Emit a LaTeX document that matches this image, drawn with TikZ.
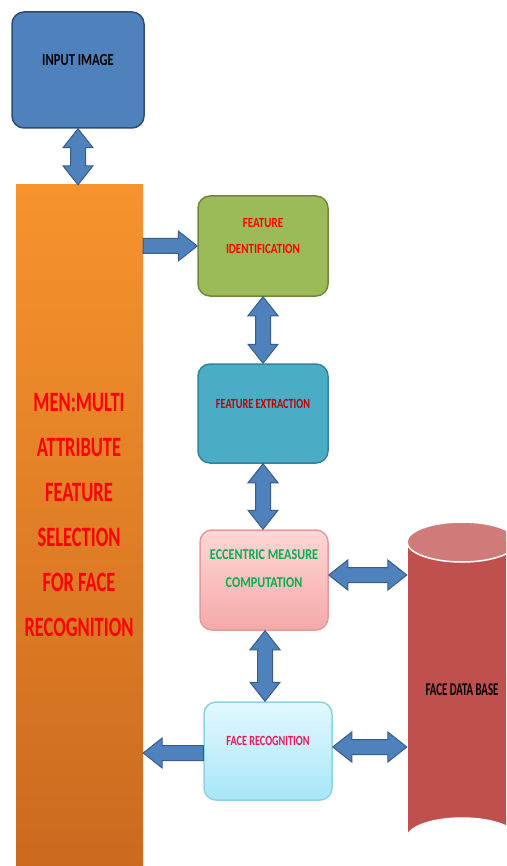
\documentclass[tikz,border=0pt]{standalone}
\usepackage{fontspec}
\usepackage{graphicx}
\setmainfont{Carlito}
\usetikzlibrary{calc}
\definecolor{arrowfill}{HTML}{4F81BD}
\definecolor{arrowline}{HTML}{385D8A}
\definecolor{inputfill}{HTML}{4F81BD}
\definecolor{inputline}{HTML}{2C4D75}
\definecolor{orangetop}{HTML}{F7932D}
\definecolor{orangebot}{HTML}{CB6A1F}
\definecolor{greenfill}{HTML}{9BBB59}
\definecolor{greenline}{HTML}{6F8A3A}
\definecolor{tealfill}{HTML}{4BACC6}
\definecolor{tealline}{HTML}{31849B}
\definecolor{pinktop}{HTML}{FFD6D6}
\definecolor{pinkbot}{HTML}{F5A9A9}
\definecolor{pinkline}{HTML}{E69A9A}
\definecolor{cyantop}{HTML}{E2F8FE}
\definecolor{cyanbot}{HTML}{A9E6F8}
\definecolor{cyanline}{HTML}{8ED2E6}
\definecolor{dbfill}{HTML}{C0504D}
\definecolor{dbtop}{HTML}{CF7B79}
\definecolor{txtred}{HTML}{FF0000}
\definecolor{txtdarkred}{HTML}{C00000}
\definecolor{txtgreen}{HTML}{00B050}
\definecolor{txtpink}{HTML}{E6195A}
\newcommand\sq[2]{\scalebox{#1}[1]{#2}}
\def\AW{7.5pt}
\def\AH{15pt}
\def\AL{19pt}
% vertical double block arrow: #1 top point, #2 bottom point
\newcommand\vdbl[2]{\draw[blockarrow] let \p1=(#1), \p2=(#2) in
  (\x1,\y1) -- (\x1+\AH,\y1-\AL) -- (\x1+\AW,\y1-\AL) -- (\x1+\AW,\y2+\AL) -- (\x1+\AH,\y2+\AL)
  -- (\x1,\y2) -- (\x1-\AH,\y2+\AL) -- (\x1-\AW,\y2+\AL) -- (\x1-\AW,\y1-\AL) -- (\x1-\AH,\y1-\AL) -- cycle;}
% horizontal double block arrow: #1 left point, #2 right point
\newcommand\hdbl[2]{\draw[blockarrow] let \p1=(#1), \p2=(#2) in
  (\x1,\y1) -- (\x1+\AL,\y1+\AH) -- (\x1+\AL,\y1+\AW) -- (\x2-\AL,\y1+\AW) -- (\x2-\AL,\y1+\AH)
  -- (\x2,\y1) -- (\x2-\AL,\y1-\AH) -- (\x2-\AL,\y1-\AW) -- (\x1+\AL,\y1-\AW) -- (\x1+\AL,\y1-\AH) -- cycle;}
% single right arrow: #1 tail (left), #2 tip (right)
\newcommand\rarr[2]{\draw[blockarrow] let \p1=(#1), \p2=(#2) in
  (\x1,\y1+\AW) -- (\x2-\AL,\y1+\AW) -- (\x2-\AL,\y1+\AH) -- (\x2,\y1) -- (\x2-\AL,\y1-\AH)
  -- (\x2-\AL,\y1-\AW) -- (\x1,\y1-\AW) -- cycle;}
% single left arrow: #1 tail (right), #2 tip (left)
\newcommand\larr[2]{\draw[blockarrow] let \p1=(#1), \p2=(#2) in
  (\x1,\y1+\AW) -- (\x2+\AL,\y1+\AW) -- (\x2+\AL,\y1+\AH) -- (\x2,\y1) -- (\x2+\AL,\y1-\AH)
  -- (\x2+\AL,\y1-\AW) -- (\x1,\y1-\AW) -- cycle;}
\begin{document}
\begin{tikzpicture}[x=1pt,y=-1pt,
  blockarrow/.style={fill=arrowfill,draw=arrowline,line width=1pt,line join=miter},
  roundbox/.style={rounded corners=12pt,inner sep=0pt,line width=1.5pt},
  lbl/.style={align=center,inner sep=0pt,font=\bfseries}]
\useasboundingbox (0,0) rectangle (506,866);
\clip (0,0) rectangle (506,866);
\fill[white] (0,0) rectangle (506,866);

% boxes
\node[roundbox,fill=inputfill,draw=inputline,minimum width=132pt,minimum height=116pt] (input) at (78,70) {};
\node[lbl,text=black,font=\bfseries\fontsize{17}{20}\selectfont] (inputlbl) at (78,60) {\sq{0.74}{INPUT IMAGE}};

\node[inner sep=0pt,minimum width=127pt,minimum height=682pt,top color=orangetop,bottom color=orangebot] (men) at (79.5,526) {};
\node[lbl,text=txtred,font=\bfseries\fontsize{28}{45}\selectfont] (menlbl) at (79,515)
  {\sq{0.66}{MEN:MULTI}\\\sq{0.66}{ATTRIBUTE}\\\sq{0.66}{FEATURE}\\\sq{0.66}{SELECTION}\\\sq{0.66}{FOR FACE}\\\sq{0.66}{RECOGNITION}};

\node[roundbox,fill=greenfill,draw=greenline,minimum width=130pt,minimum height=100pt] (fid) at (263,246) {};
\node[lbl,text=txtred,font=\bfseries\fontsize{14}{26}\selectfont] (fidlbl) at (263,236) {\sq{0.79}{FEATURE}\\\sq{0.79}{IDENTIFICATION}};

\node[roundbox,fill=tealfill,draw=tealline,minimum width=130pt,minimum height=99pt] (fext) at (263,413.5) {};
\node[lbl,text=txtdarkred,font=\bfseries\fontsize{14}{20}\selectfont] (fextlbl) at (263,404) {\sq{0.73}{FEATURE EXTRACTION}};

\node[roundbox,top color=pinktop,bottom color=pinkbot,draw=pinkline,minimum width=128pt,minimum height=100pt] (ecc) at (264,580) {};
\node[lbl,text=txtgreen,font=\bfseries\fontsize{15}{28}\selectfont] (ecclbl) at (264,569) {\sq{0.81}{ECCENTRIC MEASURE}\\\sq{0.81}{COMPUTATION}};

\node[roundbox,top color=cyantop,bottom color=cyanbot,draw=cyanline,minimum width=128pt,minimum height=98pt] (frec) at (268,751) {};
\node[lbl,text=txtpink,font=\bfseries\fontsize{14}{20}\selectfont] (freclbl) at (268,741) {\sq{0.73}{FACE RECOGNITION}};

% database cylinder
\fill[dbfill] (407,542) -- (407,838) arc[start angle=180,end angle=360,x radius=55,y radius=20] -- (517,542) -- cycle;
\draw[white,line width=1.5pt] (407,542) -- (407,838) arc[start angle=180,end angle=360,x radius=55,y radius=20] -- (517,542);
\draw[white,line width=1.5pt,fill=dbtop] (462,542) ellipse[x radius=55,y radius=20];
\node[inner sep=0pt,minimum width=110pt,minimum height=336pt,font=\bfseries\fontsize{18}{20}\selectfont] (db) at (462,690) {\sq{0.6}{FACE DATA BASE}};

% connectors
\vdbl{input.south}{men.north}
\rarr{men.east |- fid.west}{fid.west}
\vdbl{fid.south}{fext.north}
\vdbl{fext.south}{fext.south |- ecc.north}
\hdbl{$(ecc.east)+(0,-5)$}{$(ecc.east -| db.west)+(0,-5)$}
\vdbl{$(ecc.south)+(1,0)$}{$(ecc.south |- frec.north)+(1,0)$}
\larr{$(frec.west)+(0,2)$}{$(frec.west -| men.east)+(0,2)$}
\hdbl{$(frec.east)+(0,-4)$}{$(frec.east -| db.west)+(0,-4)$}
\end{tikzpicture}
\end{document}
